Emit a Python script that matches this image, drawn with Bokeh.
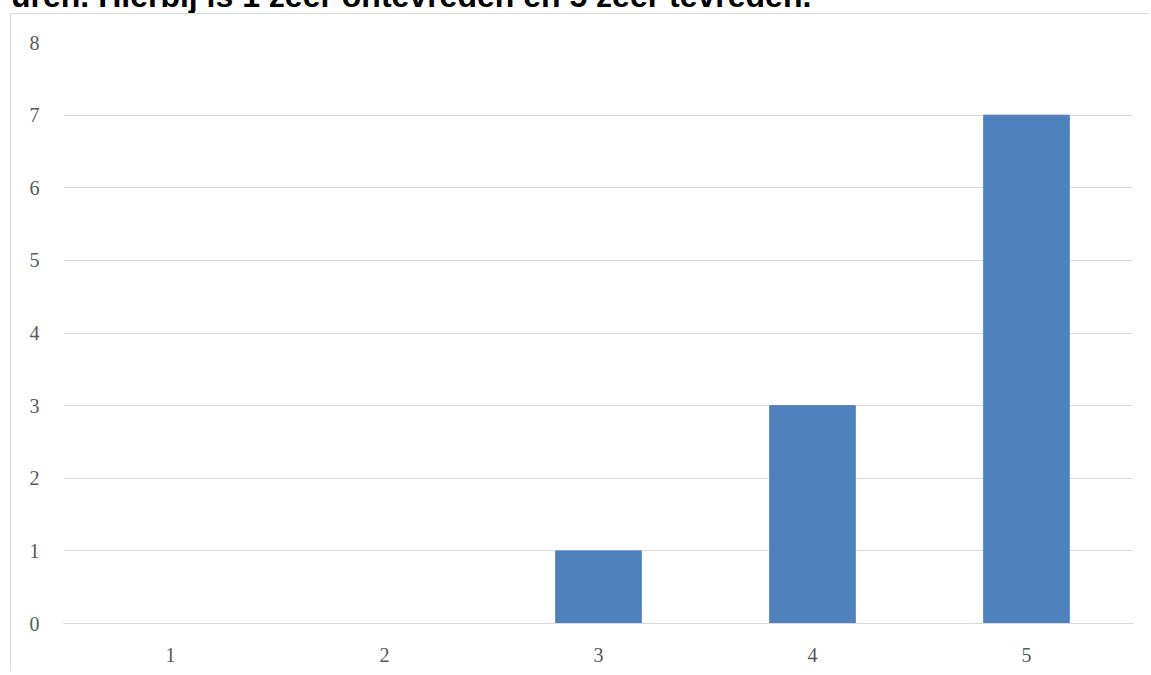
from bokeh.plotting import figure
from bokeh.models import Div, FactorRange, Range1d
from bokeh.layouts import column
from bokeh.embed import file_html
from bokeh.resources import INLINE

categories = ["1", "2", "3", "4", "5"]
counts = [0, 0, 1, 3, 7]
title_text = "uren. Hierbij is 1 zeer ontevreden en 5 zeer tevreden."

title_div = Div(
    text=('<div style="font-family: \'Liberation Sans\', Arial, sans-serif; font-weight: bold; '
          'font-size: 32px; line-height: 32px; white-space: nowrap; color: #000; '
          'margin: 0; padding: 0;">' + title_text + '</div>'),
    width=900, height=70, margin=(-20, 0, 0, 11),
)

p = figure(
    width=1139, height=658,
    x_range=FactorRange(factors=categories, range_padding=0),
    y_range=Range1d(0, 8),
    output_backend="svg", toolbar_location=None, title=None,
    min_border_left=52, min_border_right=17, min_border_top=28, min_border_bottom=49,
    margin=(-37, 0, 0, 10),
    styles={"border-top": "1px solid #d9d9d9", "border-left": "1px solid #d9d9d9",
            "background-color": "white", "z-index": "1"},
)
p.outline_line_color = None
p.background_fill_color = "white"
p.border_fill_color = "white"

p.vbar(x=categories, top=counts, width=0.4, fill_color="#4f81bd", line_color="#4f81bd")

p.xgrid.grid_line_color = None
p.ygrid.grid_line_color = "#d9d9d9"
p.ygrid.grid_line_width = 1

p.yaxis.ticker = list(range(0, 9))
for ax in (p.xaxis, p.yaxis):
    ax.major_tick_line_color = None
    ax.minor_tick_line_color = None
    ax.major_label_text_font = "Liberation Serif"
    ax.major_label_text_font_size = "20px"
    ax.major_label_text_color = "#595959"
p.yaxis.axis_line_color = None
p.xaxis.axis_line_color = "#d9d9d9"
p.yaxis.major_label_standoff = 18
p.xaxis.major_label_standoff = 18

layout = column(title_div, p, spacing=0, styles={"overflow": "visible"},
                stylesheets=[":host { overflow: visible !important; }"])

open("out.html", "w").write(file_html(layout, INLINE))
